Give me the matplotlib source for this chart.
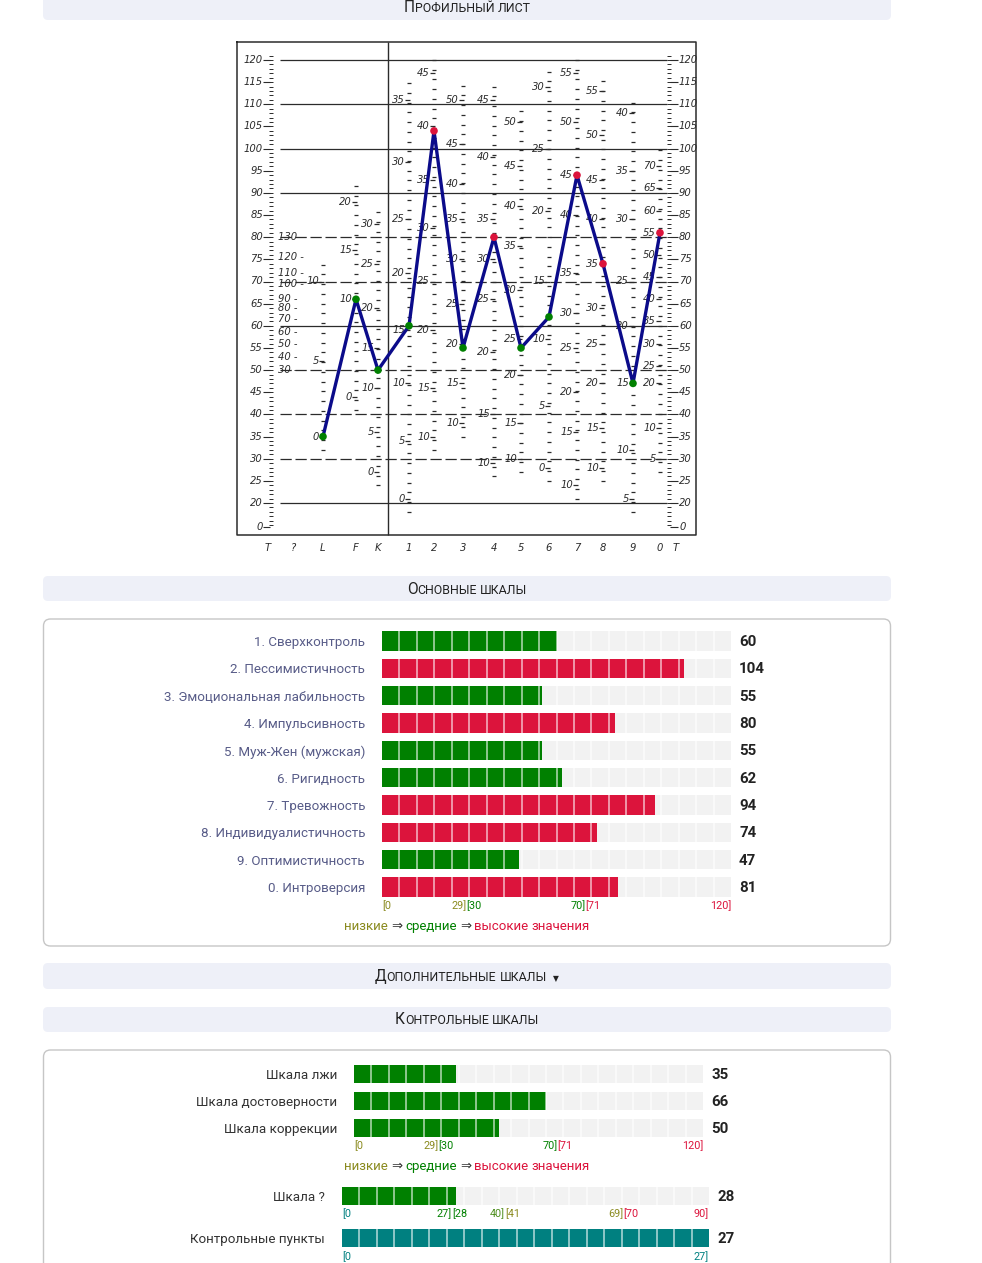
import numpy as np
import matplotlib
matplotlib.use('Agg')
import matplotlib.pyplot as plt
from matplotlib.patches import FancyBboxPatch

plt.rcParams['font.family'] = ['Roboto', 'DejaVu Sans']

# ---------------------------------------------------------------------------
# data
# ---------------------------------------------------------------------------
profile_cols = ['L', 'F', 'K', '1', '2', '3', '4', '5', '6', '7', '8', '9', '0']
profile_vals = [35, 66, 50, 60, 104, 55, 80, 55, 62, 94, 74, 47, 81]

main_labels = ['1. Сверхконтроль', '2. Пессимистичность', '3. Эмоциональная лабильность',
               '4. Импульсивность', '5. Муж-Жен (мужская)', '6. Ригидность',
               '7. Тревожность', '8. Индивидуалистичность', '9. Оптимистичность',
               '0. Интроверсия']
main_vals = [60, 104, 55, 80, 55, 62, 94, 74, 47, 81]

ctrl_labels = ['Шкала лжи', 'Шкала достоверности', 'Шкала коррекции']
ctrl_vals = [35, 66, 50]

q_label = 'Шкала ?'
q_val = 28
q_max = 90

cp_label = 'Контрольные пункты'
cp_val = 27
cp_max = 27

# raw-score marks on the scanned profile sheet (raw value, T position)
sheet_marks = {
    'L': ([0, 5, 10], [35, 52, 70]),
    'F': ([0, 10, 15, 20], [44, 66, 77, 88]),
    'K': ([0, 5, 10, 15, 20, 25, 30], [27, 36, 46, 55, 64, 74, 83]),
    '1': ([0, 5, 10, 15, 20, 25, 30, 35], [21, 34, 47, 59, 72, 84, 97, 111]),
    '2': ([10, 15, 20, 25, 30, 35, 40, 45], [35, 46, 59, 70, 82, 93, 105, 117]),
    '3': ([10, 15, 20, 25, 30, 35, 40, 45, 50], [38, 47, 56, 65, 75, 84, 92, 101, 111]),
    '4': ([10, 15, 20, 25, 30, 35, 40, 45], [29, 40, 54, 66, 75, 84, 98, 111]),
    '5': ([10, 15, 20, 25, 30, 35, 40, 45, 50], [30, 38, 49, 57, 68, 78, 87, 96, 106]),
    '6': ([0, 5, 10, 15, 20, 25, 30], [28, 42, 57, 70, 86, 100, 114]),
    '7': ([10, 15, 20, 25, 30, 35, 40, 45, 50, 55], [24, 36, 45, 55, 63, 72, 85, 94, 106, 117]),
    '8': ([10, 15, 20, 25, 30, 35, 40, 45, 50, 55], [28, 37, 47, 56, 64, 74, 84, 93, 103, 113]),
    '9': ([5, 10, 15, 20, 25, 30, 35, 40], [21, 32, 47, 60, 70, 84, 95, 108]),
    '0': ([5, 10, 20, 25, 30, 35, 40, 45, 50, 55, 60, 65, 70],
          [30, 37, 47, 51, 56, 61, 66, 71, 76, 81, 86, 91, 96]),
}
q_sheet_raw = [130, 120, 110, 100, 90, 80, 70, 60, 50, 40, 30]
q_sheet_t = [80, 75.5, 72, 69.5, 66, 64, 61.5, 58.5, 56, 53, 50]

# ---------------------------------------------------------------------------
# colours / layout
# ---------------------------------------------------------------------------
GREEN = '#008000'
RED = '#dc143c'
TEAL = '#008080'
OLIVE = '#8a8a1e'
TRACK = '#f2f2f2'
HEAD_BG = '#eef0f8'
LABEL_C = '#585c88'
DARK = '#222222'

W, H = 982, 1263
fig = plt.figure(figsize=(W / 100, H / 100), dpi=100)
fig.patch.set_facecolor('white')
renderer = fig.canvas.get_renderer()

bg = fig.add_axes([0, 0, 1, 1], zorder=0)
bg.set_xlim(0, W)
bg.set_ylim(H, 0)
bg.axis('off')


def px_axes(x0, y0, x1, y1, z=2):
    a = fig.add_axes([x0 / W, 1 - y1 / H, (x1 - x0) / W, (y1 - y0) / H], zorder=z)
    a.patch.set_alpha(0)
    return a


def text_w(s, size, weight='normal'):
    t = bg.text(0, 0, s, fontsize=size, fontweight=weight)
    w = t.get_window_extent(renderer).width
    t.remove()
    return w


def draw_runs(x, y, runs, ha='center', size=9.5):
    # runs: list of (text, colour, size) ; ' ' as its own run is a gap
    sp = text_w('x x', size) - text_w('xx', size)
    widths = []
    for txt, col, sz in runs:
        widths.append(sp if txt == ' ' else text_w(txt, sz))
    total = sum(widths)
    cx = x - total / 2 if ha == 'center' else x
    for (txt, col, sz), w in zip(runs, widths):
        if txt != ' ':
            bg.text(cx, y, txt, color=col, fontsize=sz, ha='left', va='baseline')
        cx += w


def smallcaps(s, big=11.2, small=8.9, col=DARK):
    # only the very first letter is a real capital, the rest is small caps
    runs = [(s[0].upper(), col, big)]
    for i, word in enumerate(s[1:].split(' ')):
        if i:
            runs.append((' ', col, small))
        if word:
            runs.append((word.upper(), col, small))
    return runs


def header(y0, y1, title, extra=None):
    bg.add_patch(FancyBboxPatch((43, y0), 848, y1 - y0,
                                boxstyle='round,pad=0,rounding_size=5',
                                fc=HEAD_BG, ec='none'))
    runs = smallcaps(title)
    if extra:
        runs += [(' ', DARK, 8.9), (' ', DARK, 8.9), (extra, DARK, 5.5)]
    draw_runs(467, (y0 + y1) / 2 + 5, runs, size=8.9)


def panel(y0, y1):
    bg.add_patch(FancyBboxPatch((43.5, y0), 847, y1 - y0,
                                boxstyle='round,pad=0,rounding_size=7',
                                fc='white', ec='#c6c6c6', lw=1.0))


# ---------------------------------------------------------------------------
# page frame
# ---------------------------------------------------------------------------
header(-6, 20, 'Профильный лист')
header(576, 601, 'Основные шкалы')
panel(619, 946)
header(963, 989, 'Дополнительные шкалы', extra='▼')
header(1007, 1032, 'Контрольные шкалы')
panel(1050, 1290)

# ---------------------------------------------------------------------------
# scanned profile sheet
# ---------------------------------------------------------------------------
sx0, sx1, sy0, sy1 = 236, 697, 41, 535
ps = px_axes(sx0, sy0, sx1, sy1 + 22, z=3)
ps.set_xlim(sx0, sx1)
t_top = 120 + (60 - sy0) / 4.43
t_bot = 20 - (sy1 + 22 - 503) / 4.43
ps.set_ylim(t_bot, t_top)
ps.axis('off')
t_box_bot = 20 - (sy1 - 503) / 4.43
ink = '#2b2b2b'
sheet_font = dict(fontsize=7.2, color=ink, style='italic', family='DejaVu Sans')

ps.plot([sx0 + 1, sx1 - 1, sx1 - 1, sx0 + 1, sx0 + 1],
        [t_top - 0.2, t_top - 0.2, t_box_bot, t_box_bot, t_top - 0.2],
        color=ink, lw=1.1, clip_on=False)
ps.vlines(388, t_box_bot, t_top - 0.2, color=ink, lw=1.0)

col_x = [323, 356, 378, 409, 434, 463, 494, 521, 549, 577, 603, 633, 660]
bottom_names = ['T', '?'] + profile_cols + ['T']
bottom_x = [268, 293] + col_x + [676]

# horizontal grid lines of the sheet
for t in [120, 110, 100, 90, 80, 70, 60, 50, 40, 30, 20]:
    dashed = t in (80, 70, 50, 40, 30)
    ps.hlines(t, 280, 667, color=ink, lw=0.9,
              linestyles=(0, (9, 3)) if dashed else 'solid')

# T-score scales on both edges
t_ticks = list(range(20, 125, 5))
t_pos = t_ticks + [20 - 24 / 4.43]
t_lab = t_ticks + [0]
fine = np.arange(15, 121.5, 1.0)
ps.hlines(fine, 269, 273, color=ink, lw=0.7)
ps.hlines(fine, 667, 671, color=ink, lw=0.7)
for p, lab in zip(t_pos, t_lab):
    ps.text(263, p, str(lab), ha='right', va='center', **sheet_font)
    ps.hlines(p, 263, 270, color=ink, lw=0.8)
    ps.text(679, p, str(lab), ha='left', va='center', **sheet_font)
    ps.hlines(p, 670, 678, color=ink, lw=0.8)

# "?" column raw scores
for raw, t in zip(q_sheet_raw, q_sheet_t):
    ps.text(278, t, f'{raw} -', ha='left', va='center', **sheet_font)

# raw-score columns
for name, cx in zip(profile_cols, col_x):
    raws, ts = sheet_marks[name]
    lo, hi = min(ts) - 3, max(ts) + 4
    ps.hlines(np.arange(lo, hi, 2.2), cx - 2, cx + 2, color=ink, lw=0.9)
    for raw, t in zip(raws, ts):
        ps.text(cx - 4, t, str(raw), ha='right', va='center', **sheet_font)
        ps.hlines(t, cx - 4, cx + 1, color=ink, lw=0.9)

for nm, bx in zip(bottom_names, bottom_x):
    ps.text(bx, t_bot + 2.0, nm, ha='center', va='center', **sheet_font)

# profile line
ps.plot(col_x, profile_vals, color='#0b0b8a', lw=2.4, zorder=5, solid_joinstyle='miter')
pt_colors = [RED if v > 70 else GREEN for v in profile_vals]
ps.scatter(col_x, profile_vals, s=30, c=pt_colors, zorder=6, edgecolors='none')

# ---------------------------------------------------------------------------
# bar helper
# ---------------------------------------------------------------------------
LABEL_PAD = 12.2   # points (17 px)


def seg_bars(ax, vals, vmax, colors, nseg, labels, label_color, val_pad=8):
    n = len(vals)
    y = np.arange(n)
    ax.barh(y, [vmax] * n, height=0.7, color=TRACK, zorder=1)
    ax.barh(y, vals, height=0.7, color=colors, zorder=2)
    edges = np.linspace(0, vmax, nseg + 1)[1:-1]
    for yi in y:
        ax.vlines(edges, yi - 0.35, yi + 0.35, color='white', lw=1.3, alpha=0.6, zorder=3)
    ax.set_xlim(0, vmax)
    ax.set_ylim(n - 0.5, -0.5)
    ax.set_yticks(y)
    ax.set_yticklabels(labels, color=label_color, fontsize=9.6)
    ax.tick_params(axis='y', length=0, pad=LABEL_PAD)
    ax.set_xticks([])
    for s in ax.spines.values():
        s.set_visible(False)
    for yi, v in zip(y, vals):
        ax.annotate(str(v), xy=(vmax, yi), xytext=(val_pad, -1), textcoords='offset pixels',
                    ha='left', va='center', fontsize=10.8, fontweight='bold', color=DARK)


def range_marks(ax, dy, marks):
    # marks: list of (value, text, colour, ha), dy = px below the bars
    for v, txt, col, ha in marks:
        ax.annotate(txt, xy=(v, 0), xycoords=('data', 'axes fraction'),
                    xytext=(0, -dy), textcoords='offset pixels',
                    ha=ha, va='center', fontsize=7.8, color=col)


std_marks = [(0, '[0', OLIVE, 'left'), (29, '29]', OLIVE, 'right'), (29, '[30', GREEN, 'left'),
             (70, '70]', GREEN, 'right'), (70, '[71', RED, 'left'), (120, '120]', RED, 'right')]

LS = 9.5
legend_runs = [('низкие', OLIVE, LS), (' ', DARK, LS), ('⇒', '#333333', LS), (' ', DARK, LS),
               ('средние', GREEN, LS), (' ', DARK, LS), ('⇒', '#333333', LS), (' ', DARK, LS),
               ('высокие', RED, LS), (' ', DARK, LS), ('значения', RED, LS)]

# ---------------------------------------------------------------------------
# main scales
# ---------------------------------------------------------------------------
row = 27.33
mx0, mx1 = 382, 731
my0 = 641 - row / 2
my1 = 887 + row / 2
am = px_axes(mx0, my0, mx1, my1)
main_colors = [RED if v > 70 else GREEN for v in main_vals]
seg_bars(am, main_vals, 120, main_colors, 20, main_labels, LABEL_C)
range_marks(am, 906 - my1, std_marks)
draw_runs(467, 930, legend_runs, size=LS)

# ---------------------------------------------------------------------------
# control scales
# ---------------------------------------------------------------------------
crow = 27.0
cx0, cx1 = 354, 703
cy0 = 1074 - crow / 2
cy1 = 1128 + crow / 2
ac = px_axes(cx0, cy0, cx1, cy1)
seg_bars(ac, ctrl_vals, 120, [GREEN] * 3, 20, ctrl_labels, '#333333')
range_marks(ac, 1146 - cy1, std_marks)
draw_runs(467, 1170, legend_runs, size=LS)

# Шкала ?
qx0, qx1 = 342, 709
aq = px_axes(qx0, 1196 - crow / 2, qx1, 1196 + crow / 2)
seg_bars(aq, [q_val], q_max, [GREEN], 21, [q_label], '#333333')
q_marks = [(0, '[0', TEAL, 'left'), (27, '27]', GREEN, 'right'), (27, '[28', GREEN, 'left'),
           (40, '40]', '#4f8f1f', 'right'), (40, '[41', OLIVE, 'left'),
           (69, '69]', OLIVE, 'right'), (69, '[70', RED, 'left'), (90, '90]', RED, 'right')]
range_marks(aq, 1214 - 1196 - crow / 2, q_marks)

# Контрольные пункты
ap = px_axes(qx0, 1238 - crow / 2, qx1, 1238 + crow / 2)
seg_bars(ap, [cp_val], cp_max, [TEAL], 21, [cp_label], '#333333')
range_marks(ap, 1257 - 1238 - crow / 2,
            [(0, '[0', TEAL, 'left'), (cp_max, f'{cp_max}]', TEAL, 'right')])

fig.savefig('out.png', dpi=100)
print('saved out.png')
